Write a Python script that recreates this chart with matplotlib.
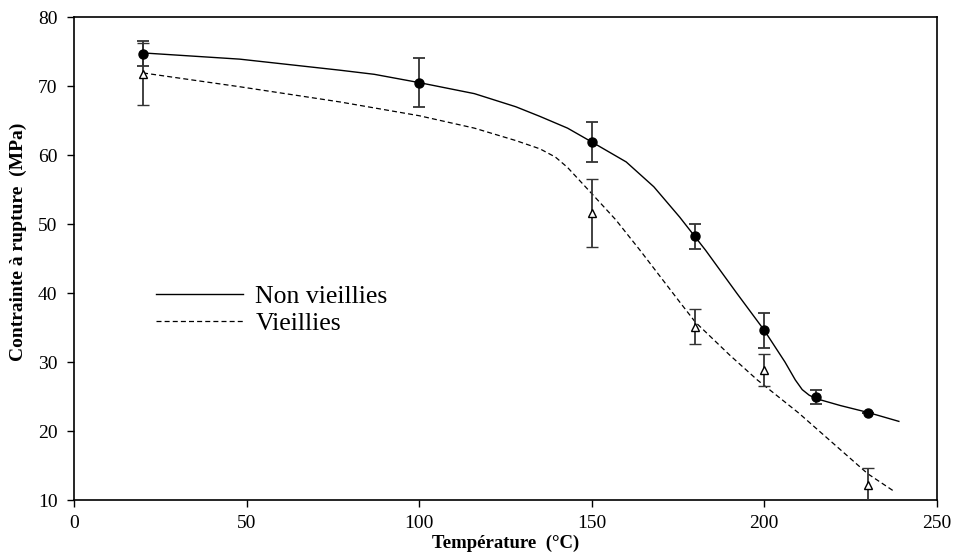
import matplotlib
matplotlib.use("Agg")
import matplotlib.pyplot as plt

plt.rcParams["font.family"] = ["Liberation Serif", "DejaVu Serif"]

# measured points (mean +/- error)
T_non = [20, 100, 150, 180, 200, 215, 230]
s_non = [74.7, 70.5, 61.9, 48.2, 34.6, 24.9, 22.6]
e_non = [1.85, 3.6, 2.85, 1.8, 2.5, 1.0, 0.0]

T_vie = [20, 150, 180, 200, 230]
s_vie = [71.8, 51.6, 35.1, 28.8, 12.2]
e_vie = [4.5, 5.0, 2.55, 2.3, 2.4]

# fitted curves
xc_non = [20, 48, 77, 87, 100, 116, 128, 135, 143, 150, 160, 168, 175.5, 183, 192,
          200, 206, 209, 211, 213, 215, 222, 230, 239]
yc_non = [74.8, 73.9, 72.3, 71.7, 70.5, 68.9, 67.0, 65.6, 63.9, 61.9, 59.0, 55.4,
          51.0, 46.2, 40.0, 34.6, 30.0, 27.4, 26.0, 25.2, 24.7, 23.7, 22.7, 21.4]

xc_vie = [20, 48, 77, 100, 116, 128, 135, 139.5, 143, 150.4, 157, 164, 175.5, 180,
          190, 198, 210, 220, 230, 237.5]
yc_vie = [71.9, 69.9, 67.7, 65.7, 63.9, 62.1, 60.9, 59.7, 58.2, 54.2, 50.6, 46.2,
          38.7, 35.8, 31.0, 27.4, 22.6, 18.2, 13.8, 11.3]

fig = plt.figure(figsize=(9.54, 5.59), dpi=100)
ax = fig.add_axes([0.0776, 0.1055, 0.9044, 0.864])

l1, = ax.plot(xc_non, yc_non, color="black", lw=1.0, label="Non vieillies")
l2, = ax.plot(xc_vie, yc_vie, color="black", lw=0.9, ls=(0, (4, 2.5)),
              label="Vieillies")

ax.errorbar(T_non, s_non, yerr=e_non, fmt="o", color="black", ms=6.5,
            ecolor="#333333", elinewidth=1.3, capsize=4, capthick=1.3, zorder=3)
ax.errorbar(T_vie, s_vie, yerr=e_vie, fmt="^", color="black", mfc="white",
            ms=5.5, mew=1.0, ecolor="#333333", elinewidth=1.3, capsize=4,
            capthick=1.3, zorder=3)

ax.set_xlim(0, 250)
ax.set_ylim(10, 80)
ax.set_xticks(range(0, 251, 50))
ax.set_yticks(range(10, 81, 10))
ax.tick_params(direction="out", length=5, width=1, labelsize=14)
ax.tick_params(axis="x", pad=6)
ax.tick_params(axis="y", pad=7)
for sp in ax.spines.values():
    sp.set_linewidth(1.2)

ax.set_xlabel("Température  (°C)", fontsize=13.5, fontweight="bold")
ax.set_ylabel("Contrainte à rupture  (MPa)", fontsize=14, fontweight="bold")
ax.xaxis.set_label_coords(0.5, -0.072)
ax.yaxis.set_label_coords(-0.055, 0.535)

ax.legend(handles=[l1, l2], loc="center left", bbox_to_anchor=(0.068, 0.394),
          frameon=False, fontsize=18.5, handlelength=3.4, handletextpad=0.47,
          labelspacing=0.15)

fig.savefig("out.png", dpi=100)
